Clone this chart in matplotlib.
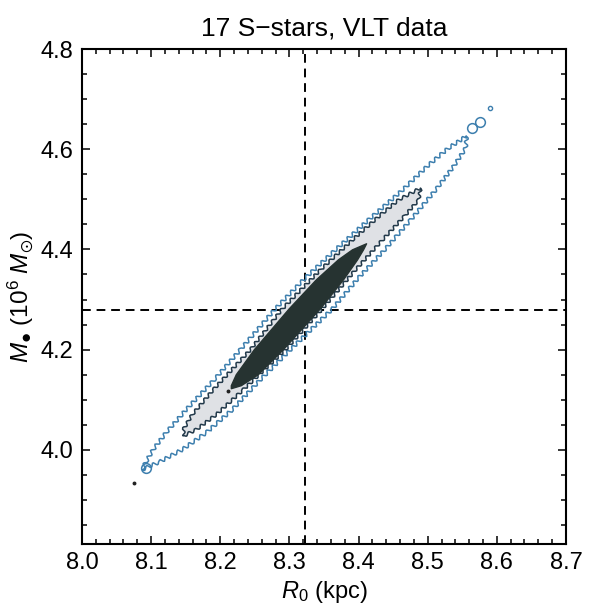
import matplotlib
matplotlib.use("Agg")
import matplotlib.pyplot as plt
from matplotlib.ticker import MultipleLocator

plt.rcParams['font.family'] = ['Liberation Sans', 'DejaVu Sans']
plt.rcParams['mathtext.fontset'] = 'custom'
plt.rcParams['mathtext.rm'] = 'Liberation Sans'
plt.rcParams['mathtext.it'] = 'Liberation Sans:italic'
plt.rcParams['mathtext.bf'] = 'Liberation Sans:bold'
plt.rcParams['mathtext.fallback'] = 'stix'

# best fit values (dashed cross)
best_r0 = 8.323
best_m = 4.28

# confidence contours: R0 (kpc) and M (10^6 Msun)
outer_r0 = [8.0870, 8.1130, 8.1449, 8.1797, 8.2174, 8.2580, 8.3014, 8.3623, 8.4000, 8.4377,
            8.4754, 8.5116, 8.5391, 8.5551, 8.5565, 8.5304, 8.5014, 8.4638, 8.4145, 8.3667,
            8.3232, 8.2797, 8.2290, 8.1913, 8.1507, 8.1217, 8.1029, 8.0928]
outer_m = [3.9605, 3.9765, 4.0004, 4.0343, 4.0802, 4.1400, 4.1998, 4.2816, 4.3434, 4.3992,
           4.4590, 4.5188, 4.5687, 4.6026, 4.6265, 4.6026, 4.5687, 4.5188, 4.4590, 4.3992,
           4.3434, 4.2816, 4.1998, 4.1400, 4.0802, 4.0343, 4.0004, 3.9765]

mid_r0 = [8.1478, 8.1652, 8.1942, 8.2333, 8.2942, 8.3478, 8.3957, 8.4348, 8.4681, 8.4870,
          8.4899, 8.4580, 8.4319, 8.3913, 8.3449, 8.2899, 8.2435, 8.1899, 8.1594, 8.1464]
mid_m = [4.0283, 4.0403, 4.0702, 4.1200, 4.1998, 4.2816, 4.3593, 4.4191, 4.4690, 4.4989,
         4.5228, 4.4989, 4.4690, 4.4191, 4.3593, 4.2816, 4.1998, 4.1200, 4.0702, 4.0403]

inner_r0 = [8.2160, 8.2304, 8.2551, 8.2913, 8.3449, 8.3783, 8.3986, 8.4072, 8.4116,
            8.3913, 8.3710, 8.3391, 8.2999, 8.2493, 8.2232, 8.2160]
inner_m = [4.1220, 4.1280, 4.1499, 4.1998, 4.2816, 4.3394, 4.3793, 4.3992, 4.4112,
           4.3992, 4.3793, 4.3394, 4.2816, 4.1998, 4.1499, 4.1280]

# small detached loops of the outer contour
loop_r0 = [8.093, 8.5638, 8.5754]
loop_m = [3.963, 4.6425, 4.6544]
speck_r0 = [8.590]
speck_m = [4.6824]
# stray dark pixels
dot_r0 = [8.0754, 8.2116]
dot_m = [3.9346, 4.118]

blue = '#3d7fae'
dark_edge = '#22394a'

fig = plt.figure(figsize=(5.95, 6.05), dpi=100)
ax = fig.add_axes([0.1378, 0.1008, 0.8134, 0.8182])

ax.axvline(best_r0, color='black', lw=1.4, ls=(0, (4.5, 3)), zorder=1)
ax.axhline(best_m, color='black', lw=1.4, ls=(0, (4.5, 3)), zorder=1)

# outer contour: line only
p = ax.fill(outer_r0, outer_m, facecolor='none', edgecolor=blue, lw=1.1, zorder=2)[0]
p.set_sketch_params(1.8, 7, 1.2)
ax.plot(loop_r0, loop_m, 'o', ms=7, mfc='none', mec=blue, mew=1.1, zorder=2)
ax.plot(speck_r0, speck_m, 'o', ms=3, mfc='none', mec=blue, mew=1.0, zorder=2)
ax.plot(dot_r0, dot_m, 'o', ms=1.8, color='#222222', zorder=5)

# middle contour: light grey fill
p = ax.fill(mid_r0, mid_m, facecolor='#dfe1e5', edgecolor=dark_edge, lw=1.1, zorder=3)[0]
p.set_sketch_params(1.5, 7, 1.2)

# inner contour: dark fill
ax.fill(inner_r0, inner_m, facecolor='#263331', edgecolor='#263331', lw=1.0,
        joinstyle='round', zorder=4)

ax.set_xlim(8.0, 8.7)
ax.set_ylim(3.812, 4.8)
ax.xaxis.set_major_locator(MultipleLocator(0.1))
ax.xaxis.set_minor_locator(MultipleLocator(0.02))
ax.yaxis.set_major_locator(MultipleLocator(0.2))
ax.yaxis.set_minor_locator(MultipleLocator(0.05))
ax.xaxis.set_major_formatter(plt.FormatStrFormatter('%.1f'))
ax.yaxis.set_major_formatter(plt.FormatStrFormatter('%.1f'))
ax.tick_params(which='both', direction='in', top=True, right=True, width=1.1,
               labelsize=17, pad=6)
ax.tick_params(which='major', length=6)
ax.tick_params(which='minor', length=3.5)
for s in ax.spines.values():
    s.set_linewidth(1.5)

ax.set_xlabel(r'$R_0$ (kpc)', fontsize=17, labelpad=3)
ax.set_ylabel('$M_{\u25cf}$ (10$^6$ $M_{\\odot}$)', fontsize=17.5, labelpad=4)
ax.set_title('17 S\u2212stars, VLT data', fontsize=19, pad=10)

plt.savefig('out.png', dpi=100)
